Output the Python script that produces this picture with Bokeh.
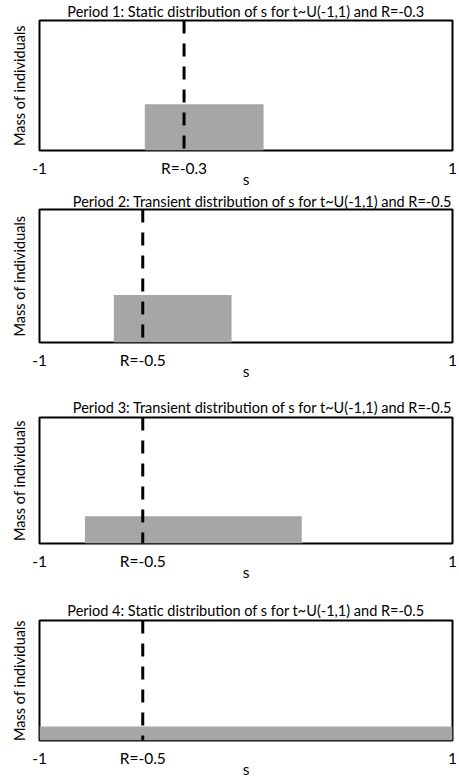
from bokeh.plotting import figure
from bokeh.layouts import column
from bokeh.models import Range1d, FixedTicker
from bokeh.embed import file_html
from bokeh.resources import INLINE

# ---- data ----
titles = [
    "Period 1: Static distribution of s for t~U(-1,1) and R=-0.3",
    "Period 2: Transient distribution of s for t~U(-1,1) and R=-0.5",
    "Period 3: Transient distribution of s for t~U(-1,1) and R=-0.5",
    "Period 4: Static distribution of s for t~U(-1,1) and R=-0.5",
]
r_values = [-0.3, -0.5, -0.5, -0.5]
r_labels = ["R=-0.3", "R=-0.5", "R=-0.5", "R=-0.5"]
bar_left = [-0.49, -0.64, -0.78, -1.0]
bar_right = [0.085, -0.07, 0.27, 1.0]
bar_height = [0.356, 0.358, 0.216, 0.116]
x_ticks = [-1, 1]
x_tick_labels = ["-1", "1"]
x_label = "s"
y_label = "Mass of individuals"

# ---- layout (style) ----
FONT = "Lato"
fig_heights = [190, 205, 203, 182]
borders_top = [20, 15, 14, 16]
frame_heights = [135, 137, 134, 135]
title_align = ["center", "right", "right", "center"]
title_offset = [9, 0, 0, 9]
title_standoff = [1, 0, 3, 3]

figs = []
for i in range(4):
    p = figure(width=459, height=fig_heights[i],
               x_range=Range1d(-1, 1), y_range=Range1d(0, 1),
               min_border_left=39, min_border_right=7,
               min_border_top=borders_top[i],
               min_border_bottom=fig_heights[i] - borders_top[i] - frame_heights[i],
               output_backend="svg", toolbar_location=None)
    p.outline_line_color = "black"
    p.outline_line_width = 2
    p.background_fill_color = "white"
    p.border_fill_color = "white"
    p.grid.visible = False

    # title
    p.title.text = titles[i]
    p.title.align = title_align[i]
    p.title.offset = title_offset[i]
    p.title.standoff = title_standoff[i]
    p.title.text_font = FONT
    p.title.text_font_size = "14.5px"
    p.title.text_font_style = "normal"
    p.title.text_color = "black"

    # y axis: label only
    ya = p.yaxis[0]
    ya.ticker = FixedTicker(ticks=[])
    ya.axis_line_color = None
    ya.major_tick_line_color = None
    ya.minor_tick_line_color = None
    ya.major_tick_out = 0
    ya.major_label_standoff = 0
    ya.axis_label = y_label
    ya.axis_label_standoff = 12
    ya.axis_label_text_font = FONT
    ya.axis_label_text_font_size = "14.5px"
    ya.axis_label_text_font_style = "normal"
    ya.axis_label_text_color = "black"

    # x axis: -1, R, 1 and "s"
    xa = p.xaxis[0]
    ticks = [x_ticks[0], r_values[i], x_ticks[1]]
    xa.ticker = FixedTicker(ticks=ticks)
    xa.major_label_overrides = {x_ticks[0]: x_tick_labels[0],
                                r_values[i]: r_labels[i],
                                x_ticks[1]: x_tick_labels[1]}
    xa.axis_line_color = None
    xa.major_tick_line_color = None
    xa.minor_tick_line_color = None
    xa.major_tick_out = 0
    xa.major_label_standoff = 8
    xa.major_label_text_font = FONT
    xa.major_label_text_font_size = "15.5px"
    xa.major_label_text_color = "black"
    xa.axis_label = x_label
    xa.axis_label_standoff = -10
    xa.axis_label_text_font = FONT
    xa.axis_label_text_font_size = "15.5px"
    xa.axis_label_text_font_style = "normal"
    xa.axis_label_text_color = "black"

    p.quad(left=[bar_left[i]], right=[bar_right[i]], bottom=[0], top=[bar_height[i]],
           fill_color="#A6A6A6", line_color=None)
    p.segment(x0=[r_values[i]], y0=[1], x1=[r_values[i]], y1=[0],
              line_color="black", line_width=3, line_dash="13 10")
    figs.append(p)

layout = column(*figs, spacing=0)
open("out.html", "w").write(file_html(layout, INLINE))
